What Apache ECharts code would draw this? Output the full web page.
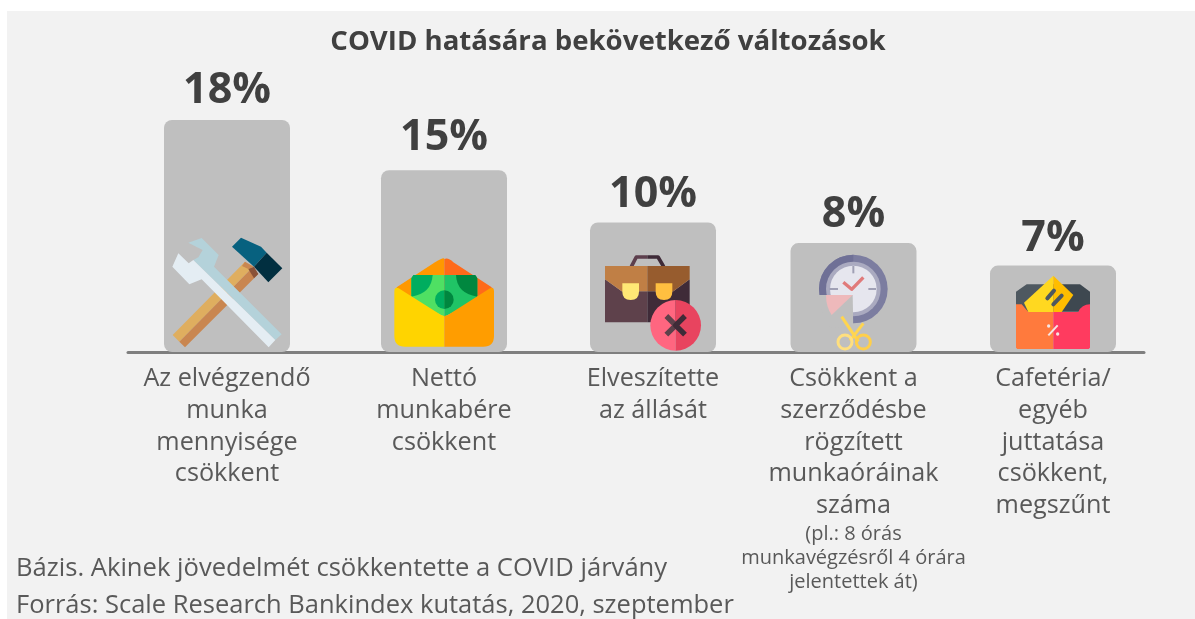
<!DOCTYPE html>
<html><head><meta charset="utf-8">
<style>html,body{margin:0;padding:0;background:#fff}#c{width:1195px;height:619px}</style>
<script src="https://cdn.jsdelivr.net/npm/echarts@6/dist/echarts.min.js"></script>
</head><body><div id="c"></div>
<script>
const chartTitle = 'COVID hatására bekövetkező változások';
const categories = ['Az elvégzendő\nmunka\nmennyisége\ncsökkent','Nettó\nmunkabére\ncsökkent','Elveszítette\naz állását','Csökkent a\nszerződésbe\nrögzített\nmunkaóráinak\nszáma','Cafetéria/\negyéb\njuttatása\ncsökkent,\nmegszűnt'];
const categoryNotes = ['','','','(pl.: 8 órás\nmunkavégzésről 4 órára\njelentettek át)',''];
const shownLabels = ['18%','15%','10%','8%','7%'];
const barHeights = [18, 14.1, 10.05, 8.45, 6.7];
const slotCenters = [99, 316, 525, 725.5, 925];
const labelNudges = [0, -3, 2, 1, 3];
const footnotes = ['Bázis. Akinek jövedelmét csökkentette a COVID járvány','Forrás: Scale Research Bankindex kutatás, 2020, szeptember'];

const FONT = '"Open Sans","Noto Sans",sans-serif';
const P = (d, fill) => ({type:'path', shape:{pathData:d}, style:{fill}});
const L = (d, stroke, w, cap) => ({type:'path', shape:{pathData:d}, style:{fill:'none', stroke, lineWidth:w, lineCap:cap||'butt', lineJoin:'round'}});
const C = (cx,cy,r,fill) => ({type:'circle', shape:{cx,cy,r}, style:{fill}});
const R = (cx,cy,r,stroke,w) => ({type:'circle', shape:{cx,cy,r}, style:{fill:'none',stroke,lineWidth:w}});
const S = (cx,cy,r,a0,a1,fill) => ({type:'sector', shape:{cx,cy,r,r0:0,startAngle:a0,endAngle:a1,clockwise:true}, style:{fill}});

// Icons, drawn in a 3x local space; each one is anchored on its bar's foot.
const icons = [
 {ox:-97, oy:-152, parts:[
  P('M128 405L148 425L365 205L345 185Z','#dfae5f'),
  P('M148 425L165 442L385 222L365 205Z','#c98650'),
  P('M345 185L372 200L355 207L336 198Z','#c98650'),
  P('M355 207L372 200L385 222L372 235Z','#8a5238'),
  P('M306 140L333 113L393 140L410 158L372 200Z','#07617f'),
  P('M410 158L457 205L415 247L372 200Z','#012f40'),
  P('M175 128L215 114L266 165L252 200L455 403L436 420L190 180L205 172L218 150Z','#b4d2da'),
  P('M127 200L145 160L176 190L190 180L436 420L416 442L215 238L178 253Z','#e4edf3')
 ]},
 {ox:-314, oy:-152, parts:[
  P('M800 262L915 187Q943 170 943 177L943 300L800 300Z','#ff9800'),
  P('M943 177Q955 172 970 187L1085 262L1085 300L943 300Z','#ff6a1a'),
  P('M844 240Q844 225 858 225L943 225L943 350L844 300Z','#4fe063'),
  P('M943 225L1028 225Q1042 225 1042 240L1042 300L943 350Z','#20c466'),
  P('M850 225L908 225Q905 280 844 290L844 235Z','#00ad5f'),
  P('M978 225L1036 225L1042 235L1042 290Q980 280 978 225Z','#00873f'),
  S(943,299,28,Math.PI/2,Math.PI*1.5,'#00ad5f'),
  S(943,299,28,-Math.PI/2,Math.PI/2,'#00873f'),
  P('M793 275Q793 258 806 265L925 340Q935 348 943 348L943 440L825 440Q793 440 793 408Z','#ffd400'),
  P('M943 348Q952 348 962 340L1080 265Q1092 258 1092 275L1092 408Q1092 440 1060 440L943 440Z','#ff9d00')
 ]},
 {ox:-83, oy:-132, parts:[
  L('M184 140L199 111L232 111','#5d3f4d',11),
  L('M232 111L264 111L281 140','#3e2a37',11),
  P('M105 178L155 214L232 214L232 307L105 307Z','#5e414b'),
  P('M232 214L310 214L359 178L359 307L232 307Z','#3f2b38'),
  P('M105 138L232 138L232 214L155 214L105 178Z','#c07f45'),
  P('M232 138L359 138L359 178L310 214L232 214Z','#975c2e'),
  P('M157 190L207 190L207 215Q207 240 182 240Q157 240 157 215Z','#ffe875'),
  P('M257 190L307 190L307 215Q307 240 282 240Q257 240 257 215Z','#ffbf40'),
  S(317,316,76,Math.PI/2,Math.PI*1.5,'#ff6680'),
  S(317,316,76,-Math.PI/2,Math.PI/2,'#e8445f'),
  L('M289 288L317 316L289 344','#5e414b',16),
  L('M345 288L317 316L345 344','#3f2b38',16)
 ]},
 {ox:-283.5, oy:-132, parts:[
  C(850,207,103,'#7c7da0'),
  P('M850 104A103 103 0 0 0 850 310Z','#6f7096'),
  C(850,207,82,'#aaaac0'),
  C(850,207,70,'#e6e6ee'),
  L('M850 138L850 160','#a0a0b5',6),
  L('M778 207L804 207','#a0a0b5',6),
  L('M895 207L918 207','#a0a0b5',6),
  L('M820 187L845 208L880 172','#e07a7a',10),
  P('M848 225L850 325L770 320L740 225Z','#bfbfbf'),
  P('M768 225L848 225L785 285Q768 260 768 225Z','#eeb9bb'),
  L('M880 310L840 362','#ffd54f',9),
  L('M815 290L865 365','#ffd54f',9),
  R(825,366,21,'#ffdf7e',9),
  R(880,366,21,'#ffcf4a',9)
 ]},
 {ox:-83, oy:-102, parts:[
  P('M138 125L170 103L250 103L250 185L138 185Z','#4e5860'),
  P('M250 103L330 103L360 125L360 185L250 185Z','#3e4850'),
  P('M138 163L155 163L175 186L250 186L250 297L142 297L138 293Z','#ff7a3d'),
  P('M250 186L325 186Q335 163 360 163L360 293L356 297L250 297Z','#ff3b5f'),
  P('M162 158L250 77L250 186L175 186Z','#ffd820'),
  P('M250 77L310 135L275 186L250 186Z','#ffbd00'),
  L('M232 145L252 122','#4e5860',12,'round'),
  L('M250 163L275 137','#4e5860',12,'round'),
  L('M235 256L263 226','#f6e6e6',6),
  C(236,228,5,'#f6e6e6'),
  C(263,252,5,'#f6e6e6')
 ]}
];

const chart = echarts.init(document.getElementById('c'), null, {renderer:'canvas'});
chart.setOption({
  animation:false,
  backgroundColor:'#ffffff',
  title:{text:chartTitle, left:603, top:23, textAlign:'center',
    textStyle:{fontFamily:FONT, fontSize:27.6, fontWeight:'bold', color:'#404040'}},
  graphic:[
    {type:'rect', z:-10, shape:{x:7,y:11,width:1188,height:608}, style:{fill:'#f2f2f2'}},
    {type:'text', left:16, top:556, style:{text:footnotes[0], fontFamily:FONT, fontSize:25.6, fill:'#595959'}},
    {type:'text', left:16, top:593, style:{text:footnotes[1], fontFamily:FONT, fontSize:25.5, fill:'#595959'}}
  ],
  grid:{left:128, top:40, width:1016, height:312},
  xAxis:{type:'value', min:0, max:1016, splitLine:{show:false},
    axisLine:{show:true, onZero:false, lineStyle:{color:'#7f7f7f', width:3}},
    axisTick:{show:false},
    axisLabel:{show:true, customValues:slotCenters, margin:11, interval:0, showMinLabel:true, showMaxLabel:true,
      hideOverlap:false,
      formatter:v=>{
        const i=slotCenters.indexOf(v);
        if(i<0) return '';
        const note=categoryNotes[i];
        return categories[i].split('\n').map(s=>'{m|'+s+'}').join('\n')+(note?'\n'+note.split('\n').map(s=>'{n|'+s+'}').join('\n'):'');
      },
      rich:{
        m:{fontFamily:FONT,fontSize:25.2,lineHeight:31.8,color:'#595959',align:'center'},
        n:{fontFamily:FONT,fontSize:20,lineHeight:24.3,color:'#595959',align:'center'}
      }
    }
  },
  yAxis:{type:'value', min:0, max:24.2, show:false},
  series:[
    {type:'bar', barWidth:126, z:2,
     data:slotCenters.map((x,i)=>({value:[x,barHeights[i]], label:{offset:[0,labelNudges[i]]}})),
     itemStyle:{color:'#bfbfbf', borderRadius:8},
     label:{show:true, position:'top', distance:8,
       formatter:p=>shownLabels[p.dataIndex],
       fontFamily:FONT, fontSize:43, fontWeight:'bold', color:'#404040'}},
    {type:'custom', z:3, silent:true,
     coordinateSystem:'cartesian2d',
     data:slotCenters.map((x,i)=>[x,0,i]),
     renderItem:(params,api)=>{
       const p=api.coord([api.value(0),0]);
       const ic=icons[api.value(2)];
       return {type:'group', x:p[0]+ic.ox, y:p[1]+ic.oy, scaleX:1/3, scaleY:1/3, children:ic.parts};
     }}
  ]
});
</script></body></html>
